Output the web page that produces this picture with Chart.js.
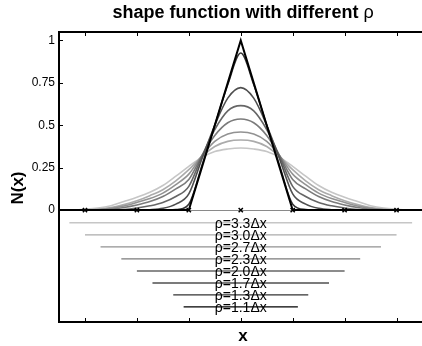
<!DOCTYPE html>
<html>
<head>
<meta charset="utf-8">
<script src="https://cdn.jsdelivr.net/npm/chart.js@4"></script>
<style>
  html, body { margin: 0; padding: 0; overflow: hidden; background: #fff; }
  #wrap { width: 428px; height: 346px; }
</style>
</head>
<body>
<div id="wrap"><canvas id="chart" width="428" height="346"></canvas></div>
<script>
// sample positions (in units of dx)
const xs = [-3.5, -3.25, -3, -2.75, -2.5, -2.25, -2, -1.75, -1.5, -1.25, -1, -0.75, -0.5, -0.25,
            0, 0.25, 0.5, 0.75, 1, 1.25, 1.5, 1.75, 2, 2.25, 2.5, 2.75, 3, 3.25, 3.5];
const nodes = [-3, -2, -1, 0, 1, 2, 3];
const yTicks = [0, 0.25, 0.5, 0.75, 1];

// support sizes, darkest first
const rhos = [1.1, 1.3, 1.7, 2.0, 2.3, 2.7, 3.0, 3.3];
const grays = ["#000000", "#333333", "#4f4f4f", "#666666", "#7b7b7b", "#929292", "#ababab", "#c6c6c6"];

// N(x)
const n11 = [0, 0, 0, 0, 0, 0, 0, 0, 0, 0, 0, 0.25, 0.5, 0.75,
             1, 0.75, 0.5, 0.25, 0, 0, 0, 0, 0, 0, 0, 0, 0, 0, 0];
const n13 = [0, 0, 0, 0, 0, 0, 0, 0, 0, 0.003, 0.035, 0.26, 0.5, 0.74,
             0.926, 0.74, 0.5, 0.26, 0.035, 0.003, 0, 0, 0, 0, 0, 0, 0, 0, 0];
const n17 = [0, 0, 0, 0, 0, 0, 0, 0.002, 0.01, 0.035, 0.095, 0.3, 0.5, 0.66,
             0.722, 0.66, 0.5, 0.3, 0.095, 0.035, 0.01, 0.002, 0, 0, 0, 0, 0, 0, 0];
const n20 = [0, 0, 0, 0, 0, 0.003, 0.012, 0.025, 0.045, 0.08, 0.14, 0.315, 0.475, 0.585,
             0.616, 0.585, 0.475, 0.315, 0.14, 0.08, 0.045, 0.025, 0.012, 0.003, 0, 0, 0, 0, 0];
const n23 = [0, 0, 0, 0, 0.005, 0.015, 0.03, 0.05, 0.08, 0.125, 0.18, 0.32, 0.44, 0.515,
             0.537, 0.515, 0.44, 0.32, 0.18, 0.125, 0.08, 0.05, 0.03, 0.015, 0.005, 0, 0, 0, 0];
const n27 = [0, 0, 0, 0.003, 0.01, 0.024, 0.045, 0.068, 0.1, 0.15, 0.212, 0.32, 0.405, 0.448,
             0.46, 0.448, 0.405, 0.32, 0.212, 0.15, 0.1, 0.068, 0.045, 0.024, 0.01, 0.003, 0, 0, 0];
const n30 = [0, 0, 0, 0.005, 0.015, 0.032, 0.055, 0.085, 0.12, 0.172, 0.238, 0.315, 0.375, 0.405,
             0.413, 0.405, 0.375, 0.315, 0.238, 0.172, 0.12, 0.085, 0.055, 0.032, 0.015, 0.005, 0, 0, 0];
const n33 = [0, 0.001, 0.005, 0.012, 0.026, 0.05, 0.075, 0.105, 0.145, 0.2, 0.258, 0.31, 0.345, 0.36,
             0.366, 0.36, 0.345, 0.31, 0.258, 0.2, 0.145, 0.105, 0.075, 0.05, 0.026, 0.012, 0.005, 0.001, 0];
const curves = [n11, n13, n17, n20, n23, n27, n30, n33];

// heights of the support bars under the axis
const barLevels = [-0.571, -0.5, -0.43, -0.359, -0.288, -0.217, -0.146, -0.075];

const FONT = "'Liberation Sans', Arial, Helvetica, sans-serif";

const datasets = [];
datasets.push({
  data: nodes.map(x => ({ x: x, y: 0 })),
  showLine: false,
  pointStyle: "crossRot",
  pointRadius: 3,
  pointBorderWidth: 1.5,
  pointBorderColor: "#000",
  borderColor: "#000"
});
curves.forEach((c, k) => {
  datasets.push({
    data: xs.map((x, i) => ({ x: x, y: c[i] })),
    borderColor: grays[k],
    borderWidth: k === 0 ? 2 : 1.6,
    tension: 0,
    cubicInterpolationMode: k === 0 ? "default" : "monotone",
    pointRadius: 0
  });
});
rhos.forEach((r, k) => {
  datasets.push({
    data: [{ x: -r, y: barLevels[k] }, { x: r, y: barLevels[k] }],
    borderColor: grays[k],
    borderWidth: 1.4,
    pointRadius: 0
  });
});

const decor = {
  id: "decor",
  afterDatasetsDraw(chart) {
    const ctx = chart.ctx;
    const a = chart.chartArea;
    const xs_ = chart.scales.x, ys_ = chart.scales.y;
    ctx.save();

    // rho labels
    ctx.fillStyle = "#000";
    ctx.font = "14px " + FONT;
    ctx.textAlign = "center";
    ctx.textBaseline = "middle";
    rhos.forEach((r, k) => {
      ctx.fillText("\u03c1=" + r.toFixed(1) + "\u0394x", xs_.getPixelForValue(0), ys_.getPixelForValue(barLevels[k]) + 1);
    });

    // frame
    ctx.strokeStyle = "#000";
    ctx.lineWidth = 2;
    ctx.beginPath();
    ctx.moveTo(a.right + 2, a.top);
    ctx.lineTo(a.left, a.top);
    ctx.lineTo(a.left, a.bottom);
    ctx.lineTo(a.right + 2, a.bottom);
    ctx.stroke();

    // inward ticks
    ctx.lineWidth = 1;
    ctx.beginPath();
    nodes.forEach(v => {
      const px = Math.round(xs_.getPixelForValue(v)) + 0.5;
      ctx.moveTo(px, a.top); ctx.lineTo(px, a.top + 4);
      ctx.moveTo(px, a.bottom); ctx.lineTo(px, a.bottom - 4);
    });
    yTicks.forEach(v => {
      const py = Math.round(ys_.getPixelForValue(v)) + 0.5;
      ctx.moveTo(a.left, py); ctx.lineTo(a.left + 4, py);
    });
    ctx.stroke();

    // title
    ctx.textBaseline = "alphabetic";
    ctx.textAlign = "left";
    const t1 = "shape function with different ";
    ctx.font = "bold 18px " + FONT;
    const w1 = ctx.measureText(t1).width;
    ctx.font = "18px " + FONT;
    const w2 = ctx.measureText("\u03c1").width;
    let x0 = 243 - (w1 + w2) / 2;
    ctx.font = "bold 18px " + FONT;
    ctx.fillText(t1, x0, 18);
    ctx.font = "18px " + FONT;
    ctx.fillText("\u03c1", x0 + w1, 18);

    // axis titles
    ctx.font = "bold 17px " + FONT;
    ctx.textAlign = "center";
    ctx.fillText("x", 243, 341);
    ctx.translate(23, 188);
    ctx.rotate(-Math.PI / 2);
    ctx.fillText("N(x)", 0, 0);
    ctx.restore();
  }
};

new Chart(document.getElementById("chart"), {
  type: "line",
  data: { datasets: datasets },
  options: {
    responsive: false,
    animation: false,
    layout: { padding: { top: 32, right: 1, left: 0, bottom: 0 } },
    plugins: { legend: { display: false }, tooltip: { enabled: false } },
    scales: {
      x: {
        type: "linear", min: -3.5, max: 3.5,
        afterFit(s) { s.height = 24; },
        ticks: { display: false },
        grid: { display: false },
        border: { display: false }
      },
      y: {
        min: -0.66, max: 1.05,
        afterFit(s) { s.width = 59; },
        afterBuildTicks(s) { s.ticks = yTicks.map(v => ({ value: v })); },
        ticks: {
          color: "#000", font: { family: FONT, size: 12 }, padding: 4, autoSkip: false,
          callback: v => String(v)
        },
        grid: {
          drawTicks: false,
          lineWidth: 1,
          color: c => (c.tick && c.tick.value === 0) ? "#8a8a8a" : "rgba(0,0,0,0)"
        },
        border: { display: false }
      }
    }
  },
  plugins: [decor]
});
</script>
</body>
</html>
